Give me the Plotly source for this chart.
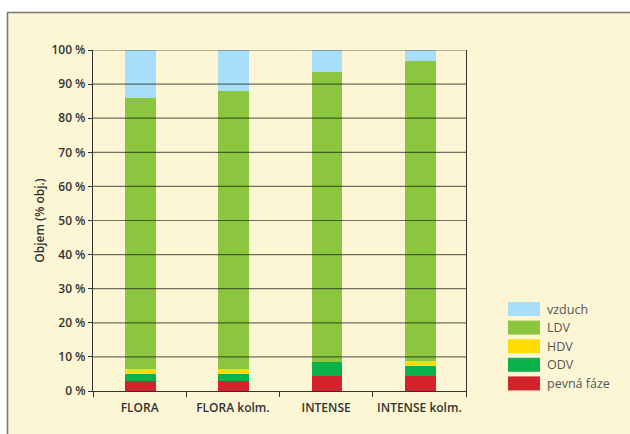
import plotly.graph_objects as go

# Soil volume composition per variant (% by volume)
categories = ["FLORA", "FLORA kolm.", "INTENSE", "INTENSE kolm."]
pevna_faze = [2.8, 2.8, 4.4, 4.4]
odv = [2.2, 2.2, 4.1, 3.0]
hdv = [1.4, 1.4, 0.0, 1.4]
ldv = [79.5, 81.5, 85.0, 88.0]
vzduch = [14.1, 12.1, 6.5, 3.2]

y_ticks = [0, 10, 20, 30, 40, 50, 60, 70, 80, 90, 100]
y_tick_labels = [f"{v} %" for v in y_ticks]

series = [
    ("pevná fáze", pevna_faze, "#D2232A"),
    ("ODV", odv, "#0DB14B"),
    ("HDV", hdv, "#FFDD00"),
    ("LDV", ldv, "#8CC63F"),
    ("vzduch", vzduch, "#A8DEF8"),
]

W, H = 630, 434
ML, MR, MT, MB = 93, 164, 50, 43
PW, PH = W - ML - MR, H - MT - MB


def px_x(x):
    return (x - ML) / PW


def px_y(y):
    return (H - MB - y) / PH


CREAM = "#FDF6D4"
TXT = "#333333"
FONT = "Open Sans"

fig = go.Figure()
for name, vals, color in series:
    fig.add_trace(go.Bar(
        x=categories, y=vals, name=name, marker_color=color,
        marker_line_width=0, width=0.33, offset=-0.155, showlegend=False,
    ))

shapes = []
# white page edge and framed cream panel
shapes.append(dict(type="rect", xref="paper", yref="paper",
                   x0=px_x(0), x1=px_x(W), y0=px_y(0), y1=px_y(12),
                   fillcolor="white", line_width=0, layer="below"))
shapes.append(dict(type="rect", xref="paper", yref="paper",
                   x0=px_x(0), x1=px_x(7), y0=px_y(0), y1=px_y(H),
                   fillcolor="white", line_width=0, layer="below"))
shapes.append(dict(type="line", xref="paper", yref="paper",
                   x0=px_x(7), x1=px_x(W), y0=px_y(12.5), y1=px_y(12.5),
                   line=dict(color="#7a7a72", width=1.6), layer="below"))
shapes.append(dict(type="line", xref="paper", yref="paper",
                   x0=px_x(7.5), x1=px_x(7.5), y0=px_y(12), y1=px_y(H),
                   line=dict(color="#7a7a72", width=1.6), layer="below"))

# horizontal grid drawn over the bars
for v in y_ticks[1:]:
    shapes.append(dict(type="line", xref="paper", yref="y",
                       x0=0, x1=1, y0=v, y1=v,
                       line=dict(color="rgba(20,20,20,0.6)", width=1.2),
                       layer="above"))

# legend: swatch + label, top entry first
annotations = []
leg_x0, leg_x1 = 508, 540
leg_top, leg_step, sw_h = 302, 18.6, 14
for i, (name, vals, color) in enumerate(reversed(series)):
    y0 = leg_top + i * leg_step
    shapes.append(dict(type="rect", xref="paper", yref="paper",
                       x0=px_x(leg_x0), x1=px_x(leg_x1),
                       y0=px_y(y0 + sw_h), y1=px_y(y0),
                       fillcolor=color, line_width=0))
    annotations.append(dict(xref="paper", yref="paper",
                            x=px_x(leg_x1 + 5), y=px_y(y0 + sw_h / 2),
                            xanchor="left", yanchor="middle", showarrow=False,
                            text=name, font=dict(family=FONT, size=12.5, color="#555555")))

fig.update_layout(
    width=W, height=H,
    margin=dict(l=ML, r=MR, t=MT, b=MB),
    paper_bgcolor=CREAM, plot_bgcolor=CREAM,
    barmode="stack",
    shapes=shapes, annotations=annotations,
    font=dict(family=FONT, size=12, color=TXT),
    xaxis=dict(
        showline=True, linecolor=TXT, linewidth=1.2,
        ticks="outside", tickson="boundaries", ticklen=5, tickcolor=TXT,
        tickangle=0, automargin=False, ticklabelstandoff=5,
        tickfont=dict(family=FONT, size=12, color=TXT, weight=600),
        showgrid=False, fixedrange=True,
    ),
    yaxis=dict(
        range=[0, 100], tickvals=y_ticks, ticktext=y_tick_labels,
        showline=True, linecolor=TXT, linewidth=1.2, mirror=True,
        ticks="outside", ticklen=4, tickcolor=TXT, automargin=False,
        tickfont=dict(family=FONT, size=12, color=TXT, weight=600),
        showgrid=False, zeroline=False,
        title=dict(text="Objem (% obj.)", standoff=4,
                   font=dict(family=FONT, size=12, color=TXT, weight=600)),
    ),
)

fig.write_html("out.html")
